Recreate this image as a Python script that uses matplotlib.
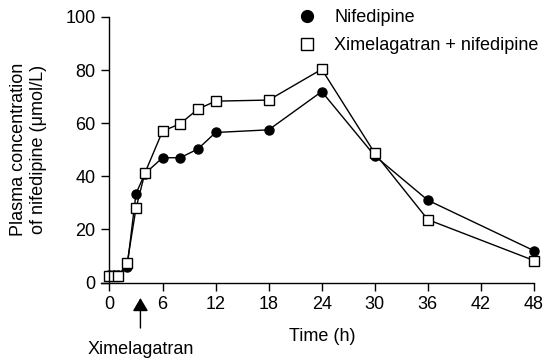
import matplotlib
matplotlib.use("Agg")
import matplotlib.pyplot as plt
from matplotlib.lines import Line2D

plt.rcParams['font.family'] = ['Liberation Sans', 'DejaVu Sans']
plt.rcParams['font.size'] = 13

# sampling times (h)
time_h = [0, 0.5, 1, 2, 3, 4, 6, 8, 10, 12, 18, 24, 30, 36, 48]
# plasma concentration of nifedipine (umol/L)
nifedipine = [2.8, 2.8, 2.8, 6, 33.5, 41, 47, 47, 50.3, 56.5, 57.5, 71.9, 47.7, 31, 12]
xime_nife = [2.5, 2.5, 2.5, 7.4, 28, 41.2, 57, 59.8, 65.3, 68.3, 68.7, 80.3, 48.7, 23.7, 8.3]

xticks = [0, 6, 12, 18, 24, 30, 36, 42, 48]
yticks = [0, 20, 40, 60, 80, 100]
dose_time = 3.5

fig = plt.figure(figsize=(5.44, 3.6), dpi=100)
ax = fig.add_axes([0.185, 0.215, 0.7966, 0.738])

ax.plot(time_h, nifedipine, color='black', lw=1.0, marker='o', ms=6.5,
        mfc='black', mec='black', clip_on=False, zorder=3)
ax.plot(time_h, xime_nife, color='black', lw=1.0, marker='s', ms=6.5,
        mfc='white', mec='black', mew=1.0, clip_on=False, zorder=4)

ax.set_xlim(-1, 48)
ax.set_ylim(0, 100)
ax.set_xticks(xticks)
ax.set_yticks(yticks)
ax.spines['top'].set_visible(False)
ax.spines['right'].set_visible(False)
ax.spines['left'].set_position(('data', 0))
ax.spines['left'].set_bounds(0, 100)
ax.tick_params(direction='out', length=5.5, width=1.0, pad=4.5)
for s in ['left', 'bottom']:
    ax.spines[s].set_linewidth(1.0)

ax.set_xlabel('Time (h)')
ax.xaxis.set_label_coords(0.511, -0.171)
ax.set_ylabel('Plasma concentration\nof nifedipine (\u03bcmol/L)')
ax.yaxis.set_label_coords(-0.124, 0.5)

ax.annotate('', xy=(dose_time, -5.8), xytext=(dose_time, -17.1),
            xycoords='data', annotation_clip=False,
            arrowprops=dict(arrowstyle='-|>,head_length=0.8,head_width=0.47',
                            color='black', lw=1.0, mutation_scale=10,
                            shrinkA=0, shrinkB=0))
ax.text(dose_time, -25, 'Ximelagatran', ha='center', va='center',
        clip_on=False)

handles = [
    Line2D([], [], ls='none', marker='o', ms=8.5, mfc='black', mec='black'),
    Line2D([], [], ls='none', marker='s', ms=8.5, mfc='white', mec='black', mew=1.0),
]
fig.legend(handles, ['Nifedipine', 'Ximelagatran + nifedipine'], loc='upper left',
           bbox_to_anchor=(298 / 544, 1 - 9 / 360), frameon=False,
           handlelength=1.0, handletextpad=1.0, labelspacing=0.6,
           borderpad=0, borderaxespad=0)

fig.savefig('out.png', dpi=100)
